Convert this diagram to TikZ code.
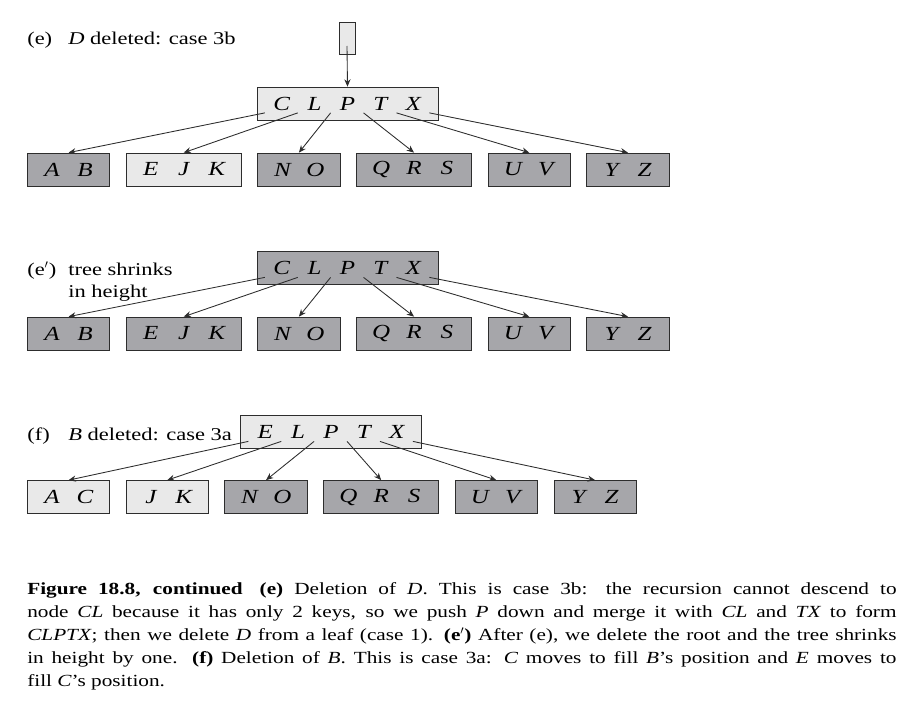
\documentclass[tikz,border=0pt]{standalone}
\usepackage{fontspec}
\setmainfont[FakeStretch=1.25]{Liberation Serif}
\usepackage{tikz}
\usetikzlibrary{positioning,arrows.meta}

\definecolor{keydark}{RGB}{166,166,170}
\definecolor{keylight}{RGB}{233,233,233}
\definecolor{edgegray}{RGB}{45,45,45}

\newcommand{\kk}[1]{\makebox[24.68pt]{\itshape #1}}

\begin{document}
\begin{tikzpicture}[
	x=0.75pt, y=-0.75pt,
	node distance=11.75pt,
	every node/.style={inner sep=0pt},
	keynode/.style={draw=edgegray, line width=0.6pt, minimum height=24.68pt, inner xsep=6.17pt, font=\fontsize{15}{18}\selectfont},
	darkbox/.style={keynode, fill=keydark},
	lightbox/.style={keynode, fill=keylight},
	tagtext/.style={anchor=base west, font=\fontsize{13.5}{16.5}\selectfont},
	ptr/.style={draw=edgegray, line width=0.65pt, -{Stealth[length=5.5pt,width=4.6pt,inset=1.8pt]}}
	]
	\useasboundingbox (0,0) rectangle (910,724);
	
	% (e)
	\node[tagtext] (tag-e) at (27,45) {(e)};
	\node[tagtext] (txt-e) at (68,45) {\textit{D} deleted: case 3b};
	\node[lightbox, minimum width=12pt, minimum height=24pt, inner xsep=0pt] (top-e) at (347,38) {};
	\node[lightbox] (root-e) at (347.5,103.5) {\kk{C}\kk{L}\kk{P}\kk{T}\kk{X}};
	\node[darkbox, anchor=west] (ab-e) at (27,169.5) {\kk{A}\kk{B}};
	\node[lightbox, right=of ab-e] (ejk-e) {\kk{E}\kk{J}\kk{K}};
	\node[darkbox, right=of ejk-e] (no-e) {\kk{N}\kk{O}};
	\node[darkbox, right=of no-e] (qrs-e) {\kk{Q}\kk{R}\kk{S}};
	\node[darkbox, right=of qrs-e] (uv-e) {\kk{U}\kk{V}};
	\node[darkbox, right=of uv-e] (yz-e) {\kk{Y}\kk{Z}};
	
	% (e')
	\node[tagtext] (tag-ee) at (27,275) {(e$'$)};
	\node[tagtext, align=left] (txt-ee) at (68,297) {tree shrinks\\in height};
	\node[darkbox] (root-ee) at (347.5,268) {\kk{C}\kk{L}\kk{P}\kk{T}\kk{X}};
	\node[darkbox, anchor=west] (ab-ee) at (27,333.5) {\kk{A}\kk{B}};
	\node[darkbox, right=of ab-ee] (ejk-ee) {\kk{E}\kk{J}\kk{K}};
	\node[darkbox, right=of ejk-ee] (no-ee) {\kk{N}\kk{O}};
	\node[darkbox, right=of no-ee] (qrs-ee) {\kk{Q}\kk{R}\kk{S}};
	\node[darkbox, right=of qrs-ee] (uv-ee) {\kk{U}\kk{V}};
	\node[darkbox, right=of uv-ee] (yz-ee) {\kk{Y}\kk{Z}};
	
	% (f)
	\node[tagtext] (tag-f) at (27,440) {(f)};
	\node[tagtext] (txt-f) at (68,440) {\textit{B} deleted: case 3a};
	\node[lightbox] (root-f) at (331,432) {\kk{E}\kk{L}\kk{P}\kk{T}\kk{X}};
	\node[lightbox, anchor=west] (ac-f) at (27,497) {\kk{A}\kk{C}};
	\node[lightbox, right=of ac-f] (jk-f) {\kk{J}\kk{K}};
	\node[darkbox, right=of jk-f] (no-f) {\kk{N}\kk{O}};
	\node[darkbox, right=of no-f] (qrs-f) {\kk{Q}\kk{R}\kk{S}};
	\node[darkbox, right=of qrs-f] (uv-f) {\kk{U}\kk{V}};
	\node[darkbox, right=of uv-f] (yz-f) {\kk{Y}\kk{Z}};
	
	% Caption
	\node[anchor=north west, text width=652pt, align=justify, font=\fontsize{12.75}{17.25}\selectfont] (caption) at (27,582) {%
		\textbf{Figure 18.8, continued}\quad \textbf{(e)} Deletion of \textit{D}. This is case 3b: the recursion cannot descend to\linebreak
		node \textit{CL} because it has only 2 keys, so we push \textit{P} down and merge it with \textit{CL} and \textit{TX} to form\linebreak
		\textit{CLPTX}; then we delete \textit{D} from a leaf (case 1). \textbf{(e$'$)} After (e), we delete the root and the tree shrinks\linebreak
		in height by one. \textbf{(f)} Deletion of \textit{B}. This is case 3a: \textit{C} moves to fill \textit{B}’s position and \textit{E} moves to\linebreak
		fill \textit{C}’s position.};
	
	% Arrows
	\draw[ptr] ([yshift=-6pt]top-e.center) -- (root-e.north);
	
	\draw[ptr] ([xshift=6.17pt,yshift=5.6pt]root-e.south west) -- (ab-e.north);
	\draw[ptr] ([xshift=30.85pt,yshift=5.6pt]root-e.south west) -- (ejk-e.north);
	\draw[ptr] ([xshift=55.5pt,yshift=5.6pt]root-e.south west) -- (no-e.north);
	\draw[ptr] ([xshift=80.2pt,yshift=5.6pt]root-e.south west) -- (qrs-e.north);
	\draw[ptr] ([xshift=104.9pt,yshift=5.6pt]root-e.south west) -- (uv-e.north);
	\draw[ptr] ([xshift=129.6pt,yshift=5.6pt]root-e.south west) -- (yz-e.north);
	
	\draw[ptr] ([xshift=6.17pt,yshift=5.6pt]root-ee.south west) -- (ab-ee.north);
	\draw[ptr] ([xshift=30.85pt,yshift=5.6pt]root-ee.south west) -- (ejk-ee.north);
	\draw[ptr] ([xshift=55.5pt,yshift=5.6pt]root-ee.south west) -- (no-ee.north);
	\draw[ptr] ([xshift=80.2pt,yshift=5.6pt]root-ee.south west) -- (qrs-ee.north);
	\draw[ptr] ([xshift=104.9pt,yshift=5.6pt]root-ee.south west) -- (uv-ee.north);
	\draw[ptr] ([xshift=129.6pt,yshift=5.6pt]root-ee.south west) -- (yz-ee.north);
	
	\draw[ptr] ([xshift=6.17pt,yshift=5.6pt]root-f.south west) -- (ac-f.north);
	\draw[ptr] ([xshift=30.85pt,yshift=5.6pt]root-f.south west) -- (jk-f.north);
	\draw[ptr] ([xshift=55.5pt,yshift=5.6pt]root-f.south west) -- (no-f.north);
	\draw[ptr] ([xshift=80.2pt,yshift=5.6pt]root-f.south west) -- (qrs-f.north);
	\draw[ptr] ([xshift=104.9pt,yshift=5.6pt]root-f.south west) -- (uv-f.north);
	\draw[ptr] ([xshift=129.6pt,yshift=5.6pt]root-f.south west) -- (yz-f.north);
	
\end{tikzpicture}
\end{document}
